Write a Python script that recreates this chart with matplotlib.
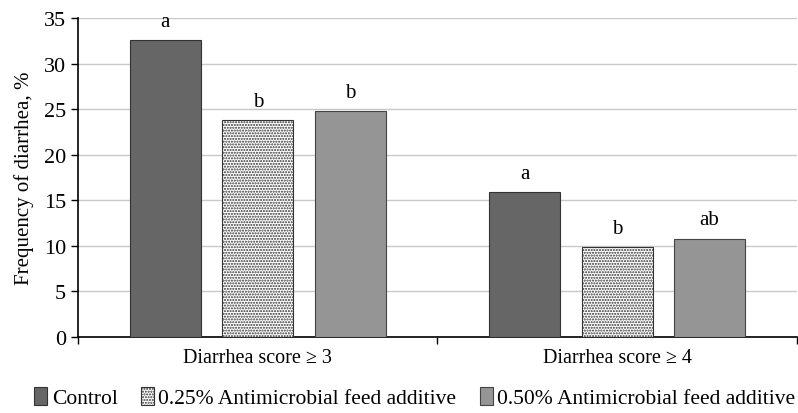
import numpy as np
import matplotlib.pyplot as plt

plt.rcParams['font.family'] = ['Liberation Serif', 'DejaVu Serif']
plt.rcParams['hatch.linewidth'] = 1.0
plt.rcParams['hatch.color'] = '#222222'

# data
categories = ['Diarrhea score \u2265 3', 'Diarrhea score \u2265 4']
series = ['Control', '0.25% Antimicrobial feed additive', '0.50% Antimicrobial feed additive']
control = [32.6, 15.9]
low_dose = [23.8, 9.9]
high_dose = [24.8, 10.8]
letters_control = ['a', 'a']
letters_low = ['b', 'b']
letters_high = ['b', 'ab']

fig = plt.figure(figsize=(7.98, 4.14), dpi=100)
ax = fig.add_axes([0.0977, 0.1836, 0.901, 0.7704])

x = np.arange(len(categories))
width = 0.198
step = 0.257
styles = [
    dict(color='#666666', edgecolor='#333333', hatch=None),
    dict(color='white', edgecolor='#333333', hatch='......'),
    dict(color='#959595', edgecolor='#444444', hatch=None),
]
for i, (vals, labs, st) in enumerate(zip([control, low_dose, high_dose],
                                         [letters_control, letters_low, letters_high], styles)):
    pos = x + (i - 1) * step
    bars = ax.bar(pos, vals, width, color=st['color'], edgecolor=st['edgecolor'],
                  hatch=st['hatch'], linewidth=0.8, label=series[i], zorder=3)
    for b, lab in zip(bars, labs):
        ax.text(b.get_x() + b.get_width() / 2, b.get_height() + 1.0, lab,
                ha='center', va='bottom', fontsize=15)

ax.set_xlim(-0.5, 1.5)
ax.set_ylim(0, 35)
ax.set_yticks(np.arange(0, 36, 5))
ax.yaxis.grid(True, color='#c8c8c8', linewidth=1)
ax.set_axisbelow(True)
ax.set_xticks(x)
ax.set_xticklabels(categories, fontsize=14.5)
ax.tick_params(axis='x', length=0, pad=8)
ax.set_xticks([-0.5, 0.5, 1.5], minor=True)
ax.tick_params(axis='x', which='minor', length=5, width=1)
ax.tick_params(axis='y', labelsize=16, length=5, width=1)
ax.set_ylabel('Frequency of diarrhea, %', fontsize=15, labelpad=7)
for s in ['top', 'right']:
    ax.spines[s].set_visible(False)
ax.spines['left'].set_linewidth(1.2)
ax.spines['bottom'].set_linewidth(1.2)

fig.legend(loc='lower center', bbox_to_anchor=(0.52, -0.035), ncol=3, frameon=False,
           fontsize=15.5, handlelength=0.6, handleheight=0.9, handletextpad=0.2,
           columnspacing=1.1)

fig.savefig('out.png', dpi=100)
